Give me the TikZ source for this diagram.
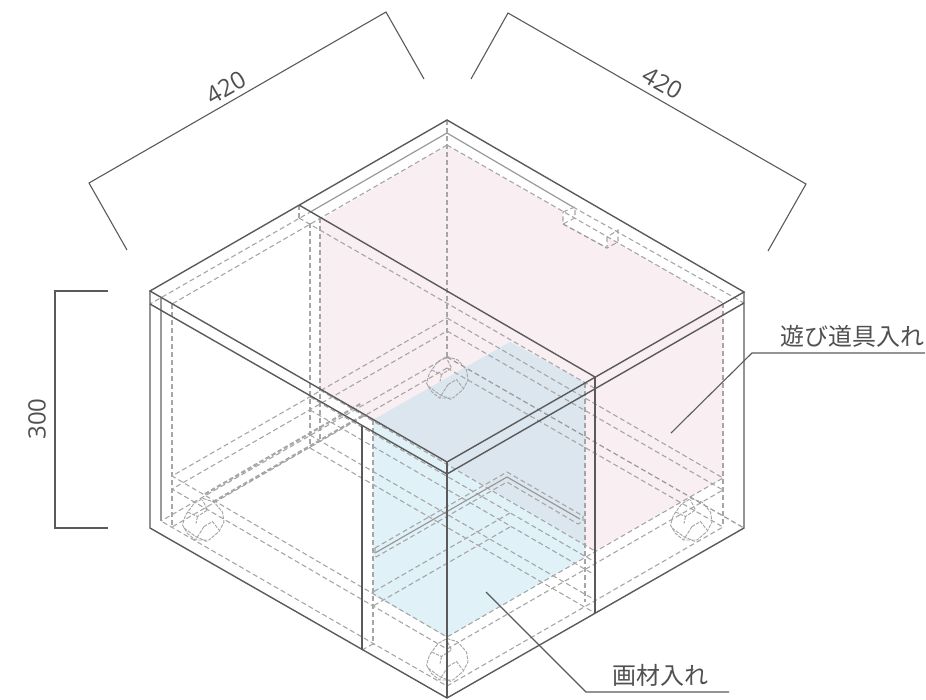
\documentclass[tikz,border=0pt]{standalone}
\usepackage{fontspec}
\setmainfont{Open Sans}
\newfontfamily\jpfont{Noto Sans CJK JP}
\definecolor{inkdark}{HTML}{5A5A5A}
\definecolor{inkmid}{HTML}{999999}
\definecolor{inkdash}{HTML}{A6A6A6}
\definecolor{pinkfill}{HTML}{F9EFF3}
\definecolor{bluefill}{HTML}{E0F1F8}
\definecolor{overfill}{HTML}{DCE6EF}
\definecolor{labelcol}{HTML}{505050}
\tikzset{
  edge/.style={draw=inkdark,line width=1.4pt,line join=miter},
  thinedge/.style={draw=inkmid,line width=1.2pt},
  dimline/.style={draw=inkdark,line width=1.1pt},
  hid/.style={draw=inkdash,line width=1.1pt,dash pattern=on 5pt off 3pt},
  hidbold/.style={draw=inkdash,line width=2.1pt,dash pattern=on 4.5pt off 2.5pt},
  hiddark/.style={draw=inkmid,line width=1.2pt,dash pattern=on 5pt off 3pt},
  tiny/.style={draw=inkdash,line width=0.95pt,dash pattern=on 3.5pt off 1.2pt},
  dimtext/.style={text=labelcol,font=\fontsize{24}{26}\selectfont,inner sep=0pt},
  jptext/.style={text=labelcol,font=\jpfont\fontsize{24}{26}\selectfont,inner sep=0pt},
  caster/.pic={
    \draw[tiny] (0,-21.5) -- (11,-18) -- (19.5,-8) -- (21,2) -- (16,11.5) -- (6,20) -- (-7.5,20) -- (-15.5,13.5) -- (-20.5,5) -- (-17.5,-5) -- (-9,-16.5) -- cycle;
    \draw[tiny] (-15.5,-8) -- (-5.5,-3.5) -- (4.5,-10) -- (-0.5,-20);
    \draw[tiny] (-5.5,-3.5) -- (-7,3.5);
    \draw[tiny] (1,6.5) -- (-7.5,20);
    \draw[tiny] (1,6.5) -- (9.5,1.5) -- (16,10);
    \draw[tiny] (-19,8) -- (-7.5,16.5) -- (4,21.5);
  }
}
\begin{document}
\begin{tikzpicture}[x=1pt,y=-1pt]
\useasboundingbox (0,0) rectangle (926,699);
% fills
\fill[pinkfill] (320,220) -- (447,145) -- (563,212) -- (563,223) -- (607,247) -- (607,237) -- (723,303) -- (723,478) -- (595,551) -- (320,390) -- cycle;
\fill[bluefill] (373,420) -- (510,342) -- (585,383) -- (585,557) -- (447,637) -- (373,595) -- cycle;
\fill[overfill] (373,420) -- (510,342) -- (585,383) -- (585,544) -- cycle;
% upper inner lines
\draw[thinedge] (447,133) -- (312,211);
\draw[thinedge] (447,133) -- (573,207);
\draw[hid] (312,211) -- (150,304);
\draw[hid] (573,207) -- (744,303);
\draw[hid] (447,145) -- (172,304);
\draw[hid] (447,145) -- (723,303);
\draw[hid] (299,218) -- (596,389);
% pink lower edge, wall lines
\draw[hid] (320,390) -- (595,551);
\draw[hid] (310,397) -- (595,562);
\draw[hid] (310,410) -- (595,575);
\draw[hid] (310,435) -- (595,600);
\draw[hid] (310,448) -- (595,613);
% verticals
\draw[thinedge] (161,298) -- (161,521);
\draw[hid] (172,304) -- (172,527);
\draw[hid] (299,205) -- (299,218);
\draw[hid] (310,223) -- (310,448);
\draw[hid] (320,218) -- (320,441);
\draw[hid] (447,120) -- (447,357);
\draw[hid] (373,420) -- (373,645);
\draw[hid] (585,383) -- (585,602);
\draw[hid] (723,303) -- (723,527);
% floors
\draw[hid] (447,318) -- (723,478) -- (447,637) -- (172,476) -- cycle;
\draw[hid] (447,331) -- (723,490) -- (447,649) -- (172,489) -- cycle;
\draw[hid] (447,368) -- (723,527) -- (447,686) -- (161,521);
\draw[hid] (447,368) -- (172,527);
\draw[hid] (447,357) -- (161,521);
\draw[hiddark] (447,357) -- (744,528);
\draw[hid] (362,650) -- (373,644);
\draw[hidbold] (205,494) -- (362,403);
\draw[hidbold] (213,502) -- (362,416);
% drawer rails
\draw[hid] (510,513) -- (373,592);
\draw[hid] (510,527) -- (373,606);
% shelf
\draw[hid] (375,548) -- (507,472) -- (583,516) -- (583,521) -- (578,524) -- (507,482) -- (376,557);
\draw[thinedge] (375,553) -- (507,477) -- (580,519);
\draw[hid] (375,548) -- (375,553) -- (376,557);
% notch
\draw[hid] (563,212) -- (575,207) -- (575,218) -- (563,224) -- cycle;
\draw[hiddark] (563,224) -- (607,248);
\draw[hid] (607,237) -- (607,248) -- (618,242) -- (618,230) -- (607,237);
% casters
\pic at (447,378) {caster};
\pic at (203,520) {caster};
\pic at (691,520) {caster};
\pic at (447,660) {caster};
% outline
\draw[edge] (150,291) -- (447,120) -- (744,292) -- (447,462) -- cycle;
\draw[edge] (150,304) -- (447,474) -- (744,303);
\draw[edge] (299,205) -- (595,377);
\draw[edge] (447,462) -- (447,698);
\draw[edge] (595,377) -- (595,613);
\draw[edge] (362,426) -- (362,650);
\draw[edge] (150,291) -- (150,528) -- (447,698) -- (744,528) -- (744,292);
% dimensions
\draw[dimline] (127,250) -- (89,183) -- (386,12) -- (424,79);
\draw[dimline] (471,79) -- (508,13) -- (806,184) -- (768,251);
\draw[dimline] (108,291) -- (55,291) -- (55,528) -- (108,528);
\node[dimtext,rotate=30] (dimleft) at (226,88) {420};
\node[dimtext,rotate=-30] (dimright) at (663,83) {420};
\node[dimtext,rotate=90] (dimheight) at (37,419) {300};
% leaders
\node[jptext] (labtoys) at (852,336) {遊び道具入れ};
\node[jptext] (labart) at (660,675) {画材入れ};
\coordinate (toysend) at (671,433);
\coordinate (toysknee) at (752,353);
\coordinate (toystail) at (925,353);
\coordinate (artend) at (486,592);
\coordinate (artknee) at (586,692);
\coordinate (arttail) at (729,692);
\draw[dimline] (toysend) -- (toysknee) -- (toystail);
\draw[dimline] (artend) -- (artknee) -- (arttail);
\end{tikzpicture}
\end{document}
